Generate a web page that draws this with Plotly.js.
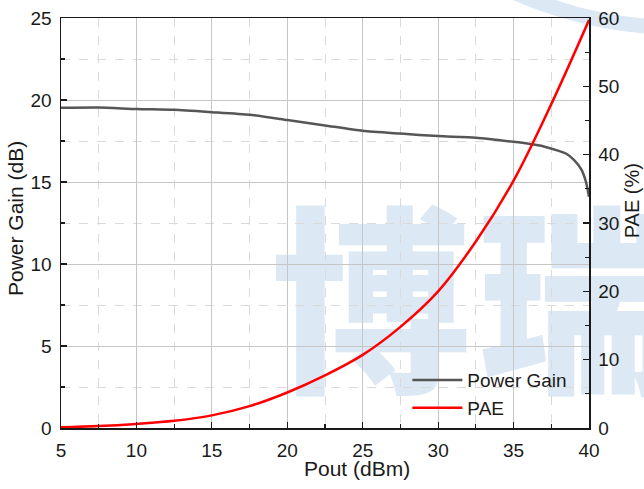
<!DOCTYPE html>
<html>
<head>
<meta charset="utf-8">
<script src="https://cdn.plot.ly/plotly-3.0.1.min.js"></script>
<style>
  html, body { margin: 0; padding: 0; background: #ffffff; overflow: hidden; }
  #wrap { position: relative; width: 644px; height: 489px; overflow: hidden; }
  #wm { position: absolute; left: 271px; top: 190px; font-family: "Noto Sans CJK SC", sans-serif;
        font-weight: 900; font-size: 200px; line-height: 1; color: #dce9f4; letter-spacing: 6px;
        white-space: nowrap; z-index: 0; }
  #arc { position: absolute; left: 264px; top: -797px; width: 832px; height: 832px; box-sizing: border-box;
         border: 15px solid #dce9f4; border-radius: 50%; z-index: 0; }
  #chart { position: absolute; left: 0; top: 0; width: 644px; height: 489px; z-index: 1; }
</style>
</head>
<body>
<div id="wrap">
  <div id="arc"></div>
  <div id="wm">博瑞</div>
  <div id="chart"></div>
</div>
<script>
// Data
const gainX = [5, 7.5, 10, 12.5, 15, 17.5, 20, 22.5, 25, 27.5, 30, 32.5, 35, 36, 37, 38, 38.5, 39, 39.5, 39.8, 40];
const gainY = [19.52, 19.54, 19.45, 19.40, 19.26, 19.10, 18.78, 18.45, 18.12, 17.95, 17.80, 17.70, 17.45, 17.33, 17.17, 16.90, 16.72, 16.35, 15.75, 15.0, 14.1];
const paeX = [5, 7.5, 10, 12.5, 15, 17.5, 20, 22.5, 25, 27.5, 30, 32.5, 35, 37.5, 40];
const paeY = [0.1, 0.28, 0.6, 1.05, 1.85, 3.2, 5.2, 7.7, 10.7, 14.8, 20.0, 27.3, 36.2, 47.4, 59.7];
const xTicks = [5, 10, 15, 20, 25, 30, 35, 40];
const yTicks = [0, 5, 10, 15, 20, 25];
const y2Ticks = [0, 10, 20, 30, 40, 50, 60];

const FONT = '"Liberation Sans", Arial, sans-serif';

const traces = [
  { x: gainX, y: gainY, name: 'Power Gain', type: 'scatter', mode: 'lines',
    line: { color: '#565656', width: 2.5, shape: 'spline', smoothing: 0.6 }, yaxis: 'y' },
  { x: paeX, y: paeY, name: 'PAE', type: 'scatter', mode: 'lines',
    line: { color: '#ff0000', width: 2.5, shape: 'spline', smoothing: 1 }, yaxis: 'y2' }
];

const axisCommon = {
  showline: true, linecolor: '#1a1a1a', linewidth: 1.5,
  ticks: 'inside', ticklen: 6, tickwidth: 1.2, tickcolor: '#1a1a1a',
  tickfont: { family: FONT, size: 19, color: '#1a1a1a' },
  zeroline: false
};

const layout = {
  width: 644, height: 489,
  margin: { l: 61, r: 55, t: 18, b: 61 },
  paper_bgcolor: 'rgba(0,0,0,0)', plot_bgcolor: 'rgba(0,0,0,0)',
  showlegend: true,
  legend: { x: 0.656, y: 0.163, xanchor: 'left', yanchor: 'top', bgcolor: 'rgba(0,0,0,0)',
            font: { family: FONT, size: 19, color: '#1a1a1a' }, itemwidth: 50, tracegroupgap: 0 },
  xaxis: Object.assign({}, axisCommon, {
    range: [5, 40], tickvals: xTicks, ticktext: xTicks.map(String), mirror: true,
    ticklabelstandoff: 5,
    showgrid: true, gridcolor: '#c6c6c6', gridwidth: 1,
    minor: { dtick: 2.5, tick0: 5, ticks: 'inside', ticklen: 4, tickcolor: '#1a1a1a',
             showgrid: true, gridcolor: '#dadada', griddash: 'dash', gridwidth: 1 }
  }),
  yaxis: Object.assign({}, axisCommon, {
    range: [0, 25], tickvals: yTicks, ticktext: yTicks.map(String),
    ticklabelstandoff: 4,
    showgrid: true, gridcolor: '#c6c6c6', gridwidth: 1,
    minor: { dtick: 2.5, tick0: 0, ticks: 'inside', ticklen: 4, tickcolor: '#1a1a1a',
             showgrid: true, gridcolor: '#dadada', griddash: 'dash', gridwidth: 1 }
  }),
  yaxis2: Object.assign({}, axisCommon, {
    range: [0, 60], tickvals: y2Ticks, ticktext: y2Ticks.map(String),
    ticklabelstandoff: 4,
    overlaying: 'y', side: 'right', showgrid: false,
    minor: { dtick: 5, tick0: 0, ticks: 'inside', ticklen: 4, tickcolor: '#1a1a1a', showgrid: false }
  }),
  annotations: [
    { text: 'Pout (dBm)', xref: 'paper', yref: 'paper', x: 0.56, y: -0.098, xanchor: 'center', yanchor: 'middle',
      showarrow: false, font: { family: FONT, size: 21, color: '#1a1a1a' } },
    { text: 'Power Gain (dB)', xref: 'paper', yref: 'paper', x: -0.085, y: 0.51, xanchor: 'center', yanchor: 'middle',
      textangle: -90, showarrow: false, font: { family: FONT, size: 21, color: '#1a1a1a' } },
    { text: 'PAE (%)', xref: 'paper', yref: 'paper', x: 1.083, y: 0.555, xanchor: 'center', yanchor: 'middle',
      textangle: -90, showarrow: false, font: { family: FONT, size: 20, color: '#1a1a1a' } }
  ]
};

Plotly.newPlot('chart', traces, layout, { displayModeBar: false, staticPlot: true });
</script>
</body>
</html>
